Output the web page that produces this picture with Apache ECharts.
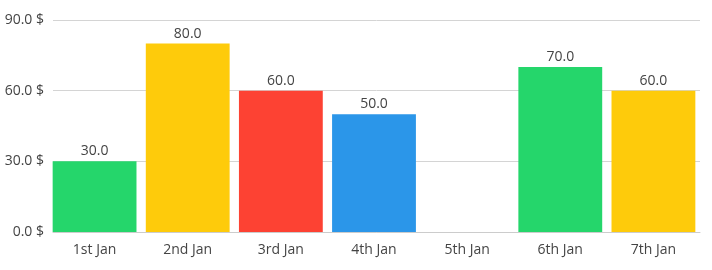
<!DOCTYPE html>
<html><head><meta charset="utf-8">
<script src="https://cdn.jsdelivr.net/npm/echarts@6/dist/echarts.min.js"></script>
<style>html,body{margin:0;padding:0;background:#fff}#c{width:712px;height:270px}</style>
</head><body><div id="c"></div>
<script>
const categories = ['1st Jan','2nd Jan','3rd Jan','4th Jan','5th Jan','6th Jan','7th Jan'];
const values = [30, 80, 60, 50, null, 70, 60];
const barColors = ['#25d66b','#fecb0b','#fd4233','#2b96e9','#25d66b','#25d66b','#fecb0b'];
const yTicks = [0, 30, 60, 90];

const chart = echarts.init(document.getElementById('c'), null, {renderer:'canvas'});
const font = 'Open Sans';
chart.setOption({
  animation:false,
  textStyle:{fontFamily:font},
  grid:[{left:53,right:12,top:20,bottom:38},{left:48,right:12,top:20,bottom:38}],
  xAxis:[
    {type:'category',gridIndex:0,data:categories,
     axisLine:{lineStyle:{color:'#cccccc'}},axisTick:{show:false},axisLabel:{show:false}},
    {type:'category',gridIndex:1,data:categories,
     axisLine:{show:false},axisTick:{show:false},
     axisLabel:{color:'#444',fontSize:14,margin:11,fontFamily:font}}
  ],
  yAxis:[
    {type:'value',gridIndex:0,min:yTicks[0],max:yTicks[yTicks.length-1],interval:30,
     axisLine:{show:false},axisTick:{show:false},
     splitLine:{lineStyle:{color:'#d4d4d4'}},
     axisLabel:{color:'#444',fontSize:14,margin:9,fontFamily:font,formatter:v=>v.toFixed(1)+' $'}},
    {type:'value',gridIndex:1,min:yTicks[0],max:yTicks[yTicks.length-1],interval:30,
     show:false,splitLine:{show:false}}
  ],
  series:[{type:'bar',xAxisIndex:1,yAxisIndex:1,barCategoryGap:'10%',
    data:values.map((v,i)=>({value:v,itemStyle:{color:barColors[i]}})),
    label:{show:true,position:'top',color:'#444',fontSize:14,distance:3,fontFamily:font,
      formatter:p=>p.value==null?'':Number(p.value).toFixed(1)}}]
});
</script></body></html>
